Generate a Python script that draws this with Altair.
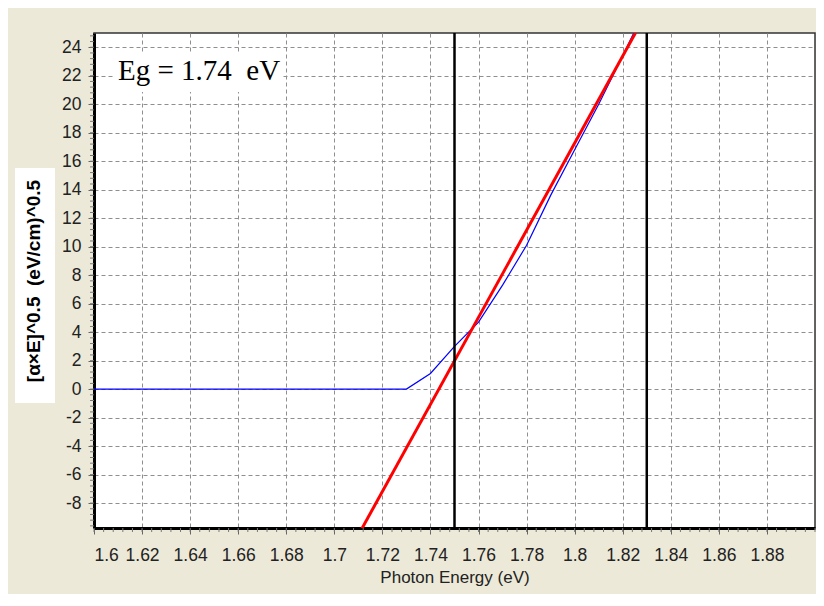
import altair as alt
import pandas as pd
import numpy as np

# Measured absorption curve (blue)
energy = [1.60, 1.61, 1.62, 1.63, 1.64, 1.65, 1.66, 1.67, 1.68, 1.69, 1.70,
          1.71, 1.72, 1.73, 1.74, 1.75, 1.76, 1.77, 1.78, 1.79, 1.80, 1.81,
          1.82, 1.83]
tauc = [0, 0, 0, 0, 0, 0, 0, 0, 0, 0, 0,
        0, 0, 0, 1.1, 3.0, 4.7, 7.3, 10.1, 13.6, 16.8, 20.0,
        23.4, 26.9]

# Linear fit (red), extrapolated to the x-axis
fit_x = [1.700, 1.840]
fit_y = [-13.3, 29.5]

# Fit window markers (black vertical lines)
window_x = [1.75, 1.83]

# Axis ticks
x_ticks = [round(1.60 + 0.02 * i, 2) for i in range(15)]
y_ticks = list(range(-8, 25, 2))
x_minor = [round(1.60 + 0.004 * i, 3) for i in range(76)]
y_minor = [round(-9.6 + 0.4 * i, 1) for i in range(87)]

NB = "\u00a0"
label_text = ["Eg = 1.74" + NB + NB + "eV"]
y_title = ["[\u03b1\u00d7E]^0.5" + NB + NB + "(eV/cm)^0.5"]

X_DOM = [1.6, 1.9]
Y_DOM = [-9.75, 25]
W, H = 721, 495
FONT = "Liberation Sans"

xs = alt.Scale(domain=X_DOM, nice=False, zero=False)
ys = alt.Scale(domain=Y_DOM, nice=False, zero=False)

curve_df = pd.DataFrame({"E": energy, "Y": tauc})
fit_df = pd.DataFrame({"E": fit_x, "Y": fit_y})
win_df = pd.DataFrame({"E": window_x})
xm_df = pd.DataFrame({"E": x_minor})
ym_df = pd.DataFrame({"Y": y_minor})
one = pd.DataFrame({"t": label_text})
yt = pd.DataFrame({"t": y_title})

x_axis = alt.Axis(values=x_ticks, labelExpr="'' + datum.value", title="Photon Energy (eV)",
                  grid=True, gridDash=[4, 3], gridColor="#8f8f8f", gridWidth=1,
                  domainColor="black", domainWidth=3, tickColor="#666",
                  tickSize=6, labelPadding=12, labelFont=FONT, labelFontSize=17.5,
                  labelColor="#222", titleFont=FONT, titleFontSize=17,
                  titleFontWeight="normal", titleColor="#222", titlePadding=6)
y_axis = alt.Axis(values=y_ticks, labelExpr="'' + datum.value", title=None,
                  grid=True, gridDash=[4, 3], gridColor="#8f8f8f", gridWidth=1,
                  domainColor="black", domainWidth=3, tickColor="#666",
                  tickSize=6, labelPadding=7, labelFont=FONT, labelFontSize=17.5,
                  labelColor="#222")

X = alt.X("E:Q", scale=xs, axis=x_axis)
Y = alt.Y("Y:Q", scale=ys, axis=y_axis)

curve = alt.Chart(curve_df).mark_line(color="#0000ff", strokeWidth=1.2, clip=True).encode(
    x=X, y=Y,
)

fit = alt.Chart(fit_df).mark_line(color="#ff0000", strokeWidth=3, clip=True).encode(
    x=X, y=Y,
)

win = alt.Chart(win_df).mark_rule(color="black", strokeWidth=2.5).encode(
    x=X,
)

xminor = alt.Chart(xm_df).mark_rule(color="#777", strokeWidth=1).encode(
    x=X,
    y=alt.value(H), y2=alt.value(H + 4),
)
yminor = alt.Chart(ym_df).mark_rule(color="#777", strokeWidth=1).encode(
    y=Y,
    x=alt.value(0), x2=alt.value(-4),
)

eg_box = alt.Chart(one).mark_rect(color="white").encode(
    x=alt.value(21), x2=alt.value(189), y=alt.value(19), y2=alt.value(59),
)
eg_text = alt.Chart(one).mark_text(font="Liberation Serif", fontSize=29,
                                   align="left", baseline="alphabetic",
                                   color="black").encode(
    x=alt.value(24), y=alt.value(47), text="t:N",
)

yt_box = alt.Chart(yt).mark_rect(color="white").encode(
    x=alt.value(-79), x2=alt.value(-39), y=alt.value(135), y2=alt.value(370),
)
yt_text = alt.Chart(yt).mark_text(font=FONT, fontSize=19, fontWeight="bold",
                                  angle=270, align="center", baseline="middle",
                                  color="black").encode(
    x=alt.value(-60), y=alt.value(248), text="t:N",
)

chart = alt.layer(
    curve, eg_box, eg_text, fit, win, xminor, yminor, yt_box, yt_text
).properties(
    width=W, height=H,
    background="#ece9d8",
    padding={"left": 86, "top": 25, "right": 1, "bottom": 66},
    autosize=alt.AutoSizeParams(type="none"),
).configure_view(
    fill="white", stroke="#333", strokeWidth=1.5,
)

chart.save("out.html", embed_options={"renderer": "svg", "actions": False})
